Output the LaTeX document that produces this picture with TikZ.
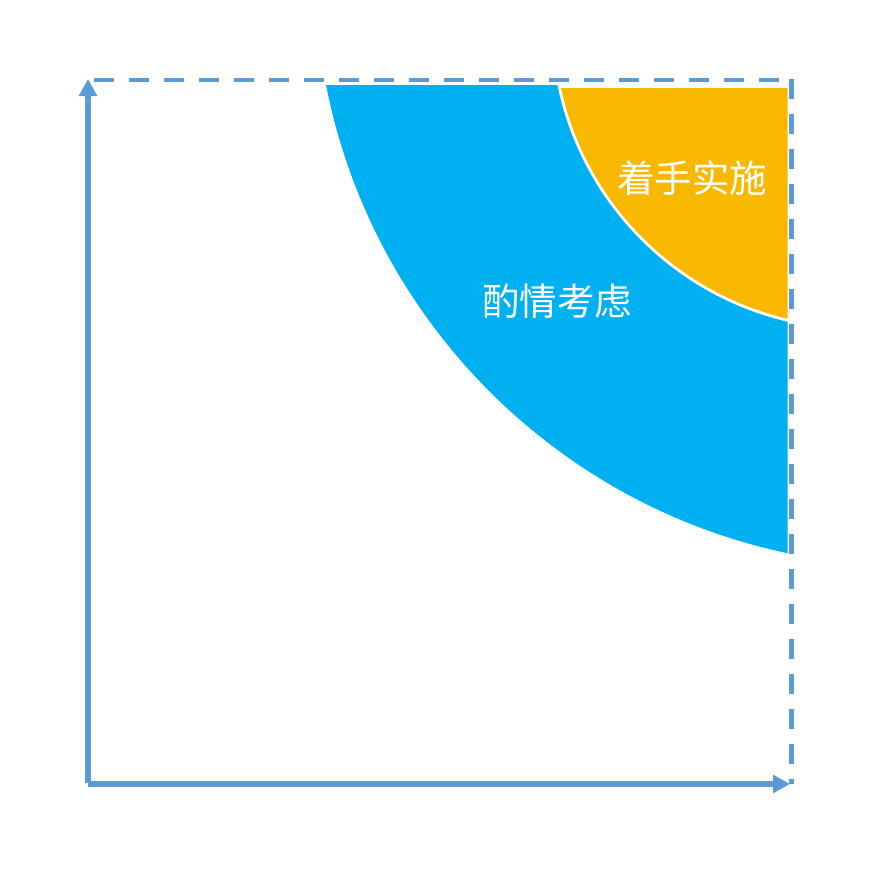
\documentclass[tikz,border=0pt]{standalone}
\usepackage{fontspec}
\newfontfamily\cjk{Noto Sans CJK SC}
\usetikzlibrary{arrows.meta}
\definecolor{axisblue}{HTML}{5B9BD5}
\definecolor{bandblue}{HTML}{00B0F0}
\definecolor{bandgold}{HTML}{F8B800}
\tikzset{
  axisline/.style={draw=axisblue, line width=5.8pt, -{Triangle[length=17pt,width=17.5pt]}},
  dashline/.style={draw=axisblue, line width=4.6pt, dash pattern=on 20pt off 15pt},
  bandlabel/.style={text=white, font=\cjk\fontsize{37.5}{44}\selectfont, inner sep=0pt},
}
\begin{document}
\begin{tikzpicture}[x=1pt,y=-1pt]
\useasboundingbox (0,0) rectangle (892,870);
\coordinate (Ybase) at (88,783);
\coordinate (Xbase) at (88,784);
\coordinate (Ytop) at (88,79);
\coordinate (Xend) at (790,784);
\coordinate (TL) at (94,80);
\coordinate (TR) at (791,80);
\coordinate (RT) at (791.5,79);
\coordinate (RB) at (791.5,784);
\coordinate (Couter) at (911,-30);
\coordinate (Cinner) at (857.4,23.6);
% blue band
\begin{scope}
  \clip (0,85) rectangle (787.5,870);
  \fill[bandblue, even odd rule] (Couter) circle[radius=596] (Cinner) circle[radius=306.2];
\end{scope}
% gold region
\begin{scope}
  \clip (0,88) rectangle (787.5,870);
  \fill[bandgold] (Cinner) circle[radius=303.2];
\end{scope}
% dashed frame
\draw[dashline] (TL) -- (TR);
\draw[dashline] (RT) -- (RB);
% axes
\draw[axisline] (Ybase) -- (Ytop);
\draw[axisline] (Xbase) -- (Xend);
% labels
\node[bandlabel] (act) at (692,178) {着手实施};
\node[bandlabel] (cons) at (557,301) {酌情考虑};
\end{tikzpicture}
\end{document}
